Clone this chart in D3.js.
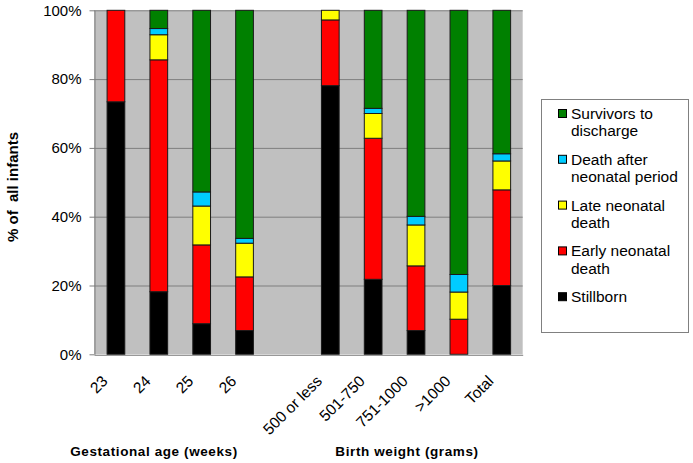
<!DOCTYPE html>
<html>
<head>
<meta charset="utf-8">
<script src="https://cdn.jsdelivr.net/npm/d3@7"></script>
<style>
  html, body { margin: 0; padding: 0; background: #fff; }
  svg { display: block; font-family: "Liberation Sans", Arial, sans-serif; }
</style>
</head>
<body>
<svg id="chart" width="693" height="463"></svg>
<script>
// ---- data ----
const categories = ["23", "24", "25", "26", "", "500 or less", "501-750", "751-1000", ">1000", "Total"];
const stillborn  = [73.4, 18.2,  8.9,  6.9, 0, 78.1, 21.8,  6.9,  0.0, 20.0];
const earlyDeath = [26.6, 67.4, 22.9, 15.6, 0, 19.1, 41.0, 18.8, 10.2, 27.8];
const lateDeath  = [ 0.0,  7.3, 11.3,  9.8, 0,  2.8,  7.2, 11.9,  7.9,  8.4];
const afterDeath = [ 0.0,  1.8,  4.1,  1.4, 0,  0.0,  1.5,  2.5,  5.1,  2.1];
const survivors  = [ 0.0,  5.3, 52.8, 66.3, 0,  0.0, 28.5, 59.9, 76.8, 41.7];
const seriesKeys   = ["stillborn", "early", "late", "after", "survivors"];
const seriesLabels = {
  survivors: ["Survivors to", "discharge"],
  after: ["Death after", "neonatal period"],
  late: ["Late neonatal", "death"],
  early: ["Early neonatal", "death"],
  stillborn: ["Stillborn"]
};
const seriesColors = { stillborn: "#000000", early: "#ff0000", late: "#ffff00", after: "#00ccff", survivors: "#008000" };
const yTicks = [0, 20, 40, 60, 80, 100];
const groupTitles = [
  { text: "Gestational age (weeks)", x: 154 },
  { text: "Birth weight (grams)", x: 407 }
];

// ---- build ----
const rows = categories.map((c, i) => ({
  idx: i, cat: c,
  stillborn: stillborn[i], early: earlyDeath[i], late: lateDeath[i],
  after: afterDeath[i], survivors: survivors[i]
}));

const svg = d3.select("#chart");
const plotLeft = 94, plotRight = 522.7, plotTop = 10.3, plotBottom = 354.3;
const FONT = "'Liberation Sans', Arial, sans-serif";

const x = d3.scaleBand()
  .domain(rows.map(d => d.idx))
  .range([plotLeft, plotRight])
  .paddingInner(0.587)
  .paddingOuter(0.2935);

const y = d3.scaleLinear().domain([0, 100]).range([plotBottom, plotTop]);

// plot background
svg.append("rect")
  .attr("x", plotLeft).attr("y", plotTop)
  .attr("width", plotRight - plotLeft).attr("height", plotBottom - plotTop)
  .attr("fill", "#c0c0c0");

// gridlines
svg.append("g").selectAll("line")
  .data(yTicks.filter(t => t > 0))
  .join("line")
  .attr("x1", plotLeft).attr("x2", plotRight)
  .attr("y1", d => y(d) + 0.5).attr("y2", d => y(d) + 0.5)
  .attr("stroke", "#7f7f7f").attr("stroke-width", 1);

// bars
const stack = d3.stack().keys(seriesKeys);
const stacked = stack(rows);

svg.append("g").selectAll("g")
  .data(stacked)
  .join("g")
  .attr("fill", d => seriesColors[d.key])
  .selectAll("rect")
  .data(d => d.filter(s => s[1] - s[0] > 0))
  .join("rect")
  .attr("x", d => x(d.data.idx) + 0.5)
  .attr("width", x.bandwidth())
  .attr("y", d => y(d[1]))
  .attr("height", d => y(d[0]) - y(d[1]))
  .attr("stroke", "#1a1a1a")
  .attr("stroke-width", 1);

// y axis
const yAxis = svg.append("g")
  .attr("transform", `translate(${plotLeft + 0.5},0)`)
  .call(d3.axisLeft(y).tickValues(yTicks).tickFormat(d => d + "%").tickSize(5).tickPadding(8).tickSizeOuter(0));
yAxis.select(".domain").attr("stroke", "#7f7f7f");
yAxis.selectAll(".tick line").attr("stroke", "#7f7f7f");
yAxis.selectAll(".tick text")
  .attr("font-family", FONT)
  .attr("font-size", 15).attr("fill", "#000");

// x axis
const xAxis = svg.append("g")
  .attr("transform", `translate(0,${plotBottom + 0.5})`)
  .call(d3.axisBottom(x).tickFormat(i => categories[i]).tickSize(0).tickSizeOuter(0));
xAxis.select(".domain").attr("stroke", "#7f7f7f");
xAxis.selectAll(".tick text")
  .attr("font-family", FONT)
  .attr("font-size", 15.5).attr("fill", "#000")
  .attr("text-anchor", "end")
  .attr("x", 0).attr("y", 0).attr("dy", "0.71em")
  .attr("transform", "translate(-14.5,19.5) rotate(-45)");

// y title
svg.append("text")
  .attr("transform", "translate(12,187) rotate(-90)")
  .attr("text-anchor", "middle")
  .attr("dominant-baseline", "central")
  .attr("font-family", FONT)
  .attr("font-weight", "bold").attr("font-size", 15)
  .style("white-space", "pre")
  .text("% of  all infants");

// group titles
svg.append("g").selectAll("text")
  .data(groupTitles)
  .join("text")
  .attr("x", d => d.x).attr("y", 456)
  .attr("text-anchor", "middle")
  .attr("font-family", FONT)
  .attr("font-weight", "bold").attr("font-size", 13.5)
  .attr("letter-spacing", 0.6)
  .text(d => d.text);

// legend
const lg = svg.append("g");
lg.append("rect")
  .attr("x", 541.5).attr("y", 99.5).attr("width", 147).attr("height", 233)
  .attr("fill", "#fff").attr("stroke", "#808080");
const legendOrder = ["survivors", "after", "late", "early", "stillborn"];
const items = lg.selectAll("g.item")
  .data(legendOrder)
  .join("g")
  .attr("class", "item")
  .attr("transform", (d, i) => `translate(0,${113.5 + i * 45.8})`);
items.append("rect")
  .attr("x", 558.5).attr("y", -4).attr("width", 8).attr("height", 8)
  .attr("fill", d => seriesColors[d]).attr("stroke", "#000");
items.append("text")
  .attr("font-family", FONT)
  .attr("font-size", 15.5)
  .selectAll("tspan")
  .data(d => seriesLabels[d])
  .join("tspan")
  .attr("x", 571)
  .attr("y", (d, i) => i * 17.5)
  .attr("dy", "0.35em")
  .text(d => d);
</script>
</body>
</html>
